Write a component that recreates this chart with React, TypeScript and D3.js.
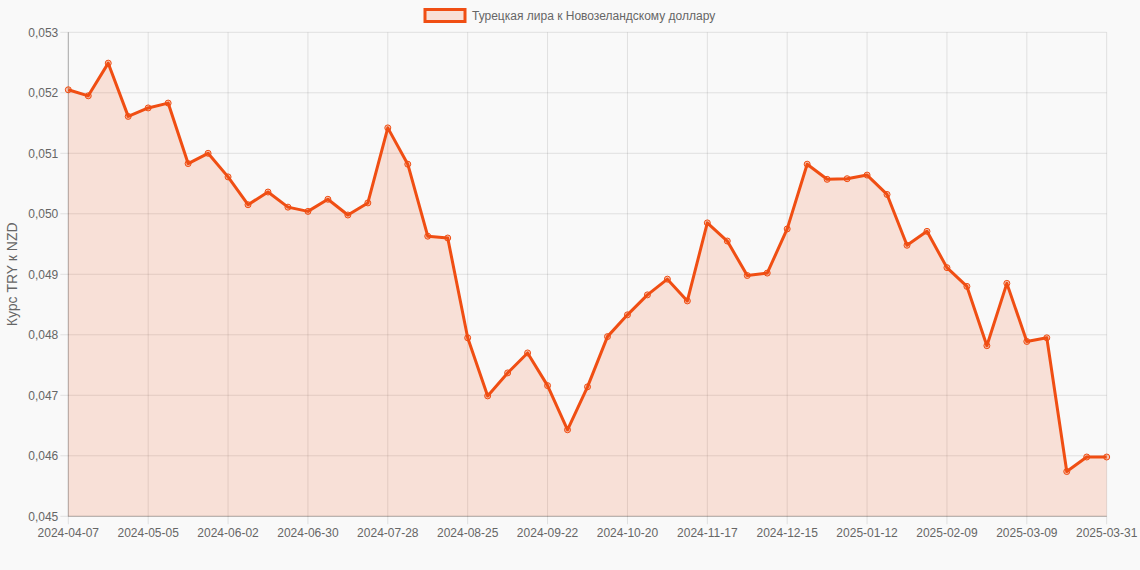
import React, { useEffect } from "react";
import * as d3 from "d3";

const labels: string[] = [
  "2024-04-07","2024-04-14","2024-04-21","2024-04-28","2024-05-05","2024-05-12","2024-05-19","2024-05-26",
  "2024-06-02","2024-06-09","2024-06-16","2024-06-23","2024-06-30","2024-07-07","2024-07-14","2024-07-21",
  "2024-07-28","2024-08-04","2024-08-11","2024-08-18","2024-08-25","2024-09-01","2024-09-08","2024-09-15",
  "2024-09-22","2024-09-29","2024-10-06","2024-10-13","2024-10-20","2024-10-27","2024-11-03","2024-11-10",
  "2024-11-17","2024-11-24","2024-12-01","2024-12-08","2024-12-15","2024-12-22","2024-12-29","2025-01-05",
  "2025-01-12","2025-01-19","2025-01-26","2025-02-02","2025-02-09","2025-02-16","2025-02-23","2025-03-02",
  "2025-03-09","2025-03-16","2025-03-23","2025-03-30","2025-03-31",
];

const values: number[] = [
  0.05205, 0.05195, 0.05249, 0.05161, 0.05175, 0.05183, 0.05083, 0.05100,
  0.05061, 0.05015, 0.05036, 0.05011, 0.05004, 0.05024, 0.04998, 0.05018,
  0.05142, 0.05082, 0.04963, 0.04960, 0.04795, 0.04699, 0.04737, 0.04770,
  0.04716, 0.04643, 0.04714, 0.04797, 0.04833, 0.04866, 0.04892, 0.04856,
  0.04985, 0.04955, 0.04898, 0.04902, 0.04975, 0.05082, 0.05057, 0.05058,
  0.05064, 0.05032, 0.04948, 0.04971, 0.04911, 0.04880, 0.04782, 0.04885,
  0.04789, 0.04795, 0.04574, 0.04598, 0.04598,
];

const yTicks: number[] = [0.045, 0.046, 0.047, 0.048, 0.049, 0.05, 0.051, 0.052, 0.053];
const xTickLabels: string[] = [
  "2024-04-07","2024-05-05","2024-06-02","2024-06-30","2024-07-28","2024-08-25","2024-09-22",
  "2024-10-20","2024-11-17","2024-12-15","2025-01-12","2025-02-09","2025-03-09","2025-03-31",
];

const seriesName = "Турецкая лира к Новозеландскому доллару";
const yTitle = "Курс TRY к NZD";

const W = 1140;
const H = 570;
const left = 68.3;
const right = 1106.7;
const top = 32.3;
const bottom = 516.3;
const lineColor = "#f04e13";
const fillColor = "rgba(240, 78, 19, 0.15)";
const gridColor = "rgba(0,0,0,0.1)";
const textColor = "#666";
const font = "'Liberation Sans', Arial, Helvetica, sans-serif";

export default function App() {
  useEffect(() => {
    document.body.style.margin = "0";
    document.body.style.background = "#f9f9f9";
  }, []);

  const x = d3.scalePoint<string>().domain(labels).range([left, right]);
  const y = d3.scaleLinear().domain([0.045, 0.053]).range([bottom, top]);
  const fmt = (v: number) => d3.format(".3f")(v).replace(".", ",");

  const pts = labels.map((l, i) => ({ l, v: values[i] }));
  const line = d3.line<{ l: string; v: number }>().x((d) => x(d.l)!).y((d) => y(d.v));
  const area = d3
    .area<{ l: string; v: number }>()
    .x((d) => x(d.l)!)
    .y0(y(0.045))
    .y1((d) => y(d.v));

  return (
    <svg width={W} height={H} style={{ display: "block", background: "#f9f9f9" }}>
      {/* legend */}
      <rect x={425} y={9.5} width={40} height={12} fill={fillColor} stroke={lineColor} strokeWidth={3} />
      <text x={472} y={19.5} fontSize={12} fill={textColor} fontFamily={font}>
        {seriesName}
      </text>

      {/* horizontal grid */}
      {yTicks.map((t) => (
        <g key={"y" + t}>
          <line x1={left - 8} x2={right} y1={y(t)} y2={y(t)} stroke={gridColor} strokeWidth={1} />
          <text
            x={left - 10}
            y={y(t)}
            dy="0.35em"
            textAnchor="end"
            fontSize={12}
            fill={textColor}
            fontFamily={font}
          >
            {fmt(t)}
          </text>
        </g>
      ))}

      {/* vertical grid */}
      {xTickLabels.map((l) => (
        <g key={"x" + l}>
          <line x1={x(l)!} x2={x(l)!} y1={top} y2={bottom + 8} stroke={gridColor} strokeWidth={1} />
          <text
            x={x(l)!}
            y={bottom + 21}
            textAnchor="middle"
            fontSize={12}
            fill={textColor}
            fontFamily={font}
          >
            {l}
          </text>
        </g>
      ))}

      {/* axis lines */}
      <line x1={left} x2={left} y1={top} y2={bottom} stroke="rgba(0,0,0,0.25)" strokeWidth={1} />
      <line x1={left} x2={right} y1={bottom} y2={bottom} stroke="rgba(0,0,0,0.25)" strokeWidth={1} />

      {/* y title */}
      <text
        transform={`translate(17, ${(top + bottom) / 2}) rotate(-90)`}
        textAnchor="middle"
        fontSize={14}
        fill={textColor}
        fontFamily={font}
      >
        {yTitle}
      </text>

      {/* series */}
      <path d={area(pts)!} fill={fillColor} stroke="none" />
      <path d={line(pts)!} fill="none" stroke={lineColor} strokeWidth={3} strokeLinejoin="round" />
      {pts.map((p) => (
        <circle
          key={p.l}
          cx={x(p.l)!}
          cy={y(p.v)}
          r={3}
          fill="rgba(240, 78, 19, 0.3)"
          stroke={lineColor}
          strokeWidth={1}
        />
      ))}
    </svg>
  );
}
